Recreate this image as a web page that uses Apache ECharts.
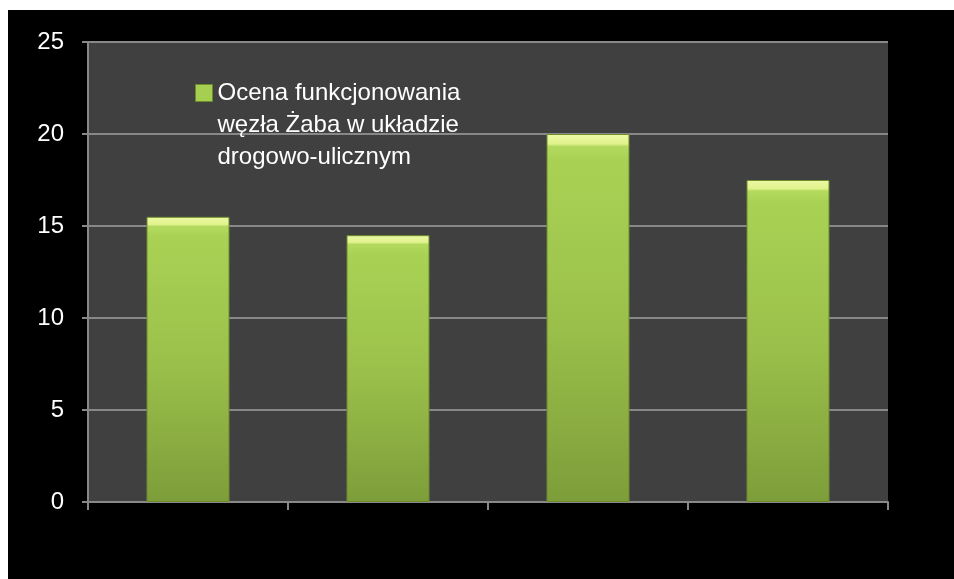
<!DOCTYPE html>
<html>
<head>
<meta charset="utf-8">
<script src="https://cdn.jsdelivr.net/npm/echarts@6/dist/echarts.min.js"></script>
<style>
  html, body { margin: 0; padding: 0; background: #ffffff; }
  #wrap { position: absolute; left: 0; top: 0; width: 954px; height: 579px; background: #ffffff; }
  #chart { position: absolute; left: 8px; top: 10px; width: 946px; height: 569px; background: #000000; }
</style>
</head>
<body>
<div id="wrap"><div id="chart"></div></div>
<script>
const categories = ['A', 'B', 'C', 'D'];
const seriesName = 'Ocena funkcjonowania\nwęzła Żaba w układzie\ndrogowo-ulicznym';
const values = [15.5, 14.5, 20, 17.5];
const yTicks = { min: 0, max: 25, interval: 5 };

const chart = echarts.init(document.getElementById('chart'), null, { renderer: 'canvas' });
const barFill = new echarts.graphic.LinearGradient(0, 0, 0, 1, [
  { offset: 0, color: '#eefaa6' },
  { offset: 0.027, color: '#e0f28c' },
  { offset: 0.034, color: '#b3da5e' },
  { offset: 0.07, color: '#a9d254' },
  { offset: 0.5, color: '#9cc14b' },
  { offset: 1, color: '#7d9d3a' }
]);
chart.setOption({
  animation: false,
  backgroundColor: '#000000',
  grid: {
    left: 80, right: 66, top: 32, bottom: 77,
    show: true, backgroundColor: '#404040', borderWidth: 0
  },
  legend: {
    show: true,
    left: 187, top: 3, padding: 0,
    itemWidth: 17, itemHeight: 17, itemGap: 0,
    icon: 'rect',
    formatter: function (name) { return '\n\n' + name; },
    textStyle: {
      color: '#ffffff', fontSize: 24, fontFamily: 'Liberation Sans, Arial, sans-serif',
      lineHeight: 32
    },
    data: [{ name: seriesName, itemStyle: { color: '#a6cf52', borderColor: '#6d8c2c', borderWidth: 1 } }]
  },
  xAxis: {
    type: 'category',
    data: categories,
    axisLine: { show: true, lineStyle: { color: '#888888', width: 2 } },
    axisTick: { show: true, length: 8, alignWithLabel: false, lineStyle: { color: '#888888', width: 2 } },
    axisLabel: { show: false },
    splitLine: { show: false }
  },
  yAxis: {
    type: 'value',
    min: yTicks.min, max: yTicks.max, interval: yTicks.interval,
    axisLine: { show: true, lineStyle: { color: '#888888', width: 2 } },
    axisTick: { show: true, length: 6, lineStyle: { color: '#888888', width: 2 } },
    axisLabel: { color: '#ffffff', fontSize: 24, fontFamily: 'Liberation Sans, Arial, sans-serif', margin: 24 },
    splitLine: { show: true, lineStyle: { color: '#888888', width: 2 } }
  },
  series: [{
    name: seriesName,
    type: 'bar',
    data: values,
    barWidth: 83,
    itemStyle: { color: barFill, borderColor: '#6d8c2c', borderWidth: 1 },
    z: 3
  }]
});
</script>
</body>
</html>
